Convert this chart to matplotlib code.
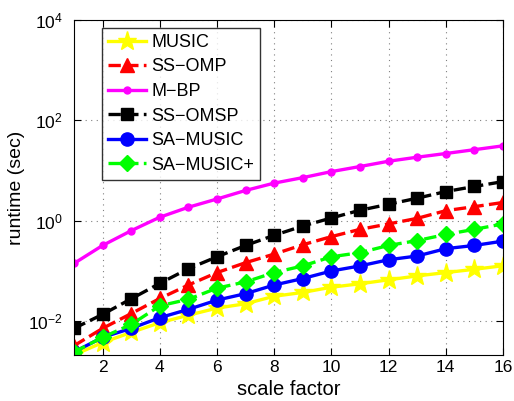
import matplotlib
matplotlib.use("Agg")
import matplotlib.pyplot as plt
import numpy as np

plt.rcParams['font.family'] = ['Liberation Sans', 'DejaVu Sans']
plt.rcParams['mathtext.fontset'] = 'custom'
plt.rcParams['mathtext.rm'] = 'Liberation Sans'

scale = list(range(1, 17))

music = [0.0021, 0.0037, 0.0059, 0.0092, 0.013, 0.018, 0.022, 0.031,
         0.037, 0.047, 0.055, 0.066, 0.079, 0.092, 0.107, 0.126]
ss_omp = [0.0032, 0.0071, 0.014, 0.028, 0.052, 0.092, 0.145, 0.215,
          0.33, 0.48, 0.67, 0.86, 1.11, 1.58, 1.9, 2.3]
m_bp = [0.14, 0.32, 0.63, 1.17, 1.85, 2.7, 4.0, 5.6,
        7.2, 9.5, 12, 15.3, 18.4, 21.8, 26, 31]
ss_omsp = [0.0071, 0.0135, 0.0276, 0.056, 0.11, 0.19, 0.32, 0.51,
           0.78, 1.13, 1.61, 2.12, 2.8, 3.8, 4.8, 6.0]
sa_music = [0.0024, 0.0047, 0.0071, 0.0116, 0.017, 0.026, 0.035, 0.052,
            0.07, 0.099, 0.125, 0.166, 0.197, 0.276, 0.32, 0.39]
sa_music_plus = [0.0024, 0.0047, 0.0085, 0.02, 0.027, 0.045, 0.06, 0.092,
                 0.125, 0.19, 0.23, 0.32, 0.4, 0.53, 0.67, 0.86]

fig = plt.figure(figsize=(5.14, 4.01), dpi=100)
ax = fig.add_axes([0.144, 0.1147, 0.8346, 0.8353])

lw = 2.4
ax.plot(scale, music, '-*', color='#ffff00', lw=lw, ms=14, label='MUSIC')
ax.plot(scale, ss_omp, '--^', color='#ff0000', lw=lw, ms=10, label='SS\u2212OMP')
ax.plot(scale, m_bp, '-o', color='#ff00ff', lw=lw, ms=5, label='M\u2212BP')
ax.plot(scale, ss_omsp, '--s', color='#000000', lw=lw, ms=8, label='SS\u2212OMSP')
ax.plot(scale, sa_music, '-o', color='#0000ff', lw=lw, ms=9.5, label='SA\u2212MUSIC')
ax.plot(scale, sa_music_plus, '--D', color='#00ff00', lw=lw, ms=8.5, label='SA\u2212MUSIC+')

ax.set_yscale('log')
ax.set_xlim(1, 16)
ax.set_ylim(10 ** -2.68, 1e4)
ax.set_xticks(range(2, 17, 2))
ax.set_yticks([1e-2, 1e0, 1e2, 1e4])
ax.yaxis.set_minor_locator(matplotlib.ticker.NullLocator())
ax.tick_params(direction='in', labelsize=12.5, length=5, top=True, right=True)
ax.tick_params(axis='y', pad=8)
ax.grid(True, linestyle=(0, (1, 4)), color='#808080', linewidth=0.8)
for s in ax.spines.values():
    s.set_linewidth(0.8)

ax.set_xlabel('scale factor', fontsize=14.5, labelpad=4)
ax.set_ylabel('runtime (sec)', fontsize=14, labelpad=2)

leg = ax.legend(loc='upper left', bbox_to_anchor=(0.065, 0.976), fontsize=13,
                frameon=True, fancybox=False, edgecolor='black',
                handlelength=2.1, handletextpad=0.33, labelspacing=0.42,
                borderpad=0.32, borderaxespad=0)
leg.get_frame().set_linewidth(1.0)

fig.savefig('out.png', dpi=100)
